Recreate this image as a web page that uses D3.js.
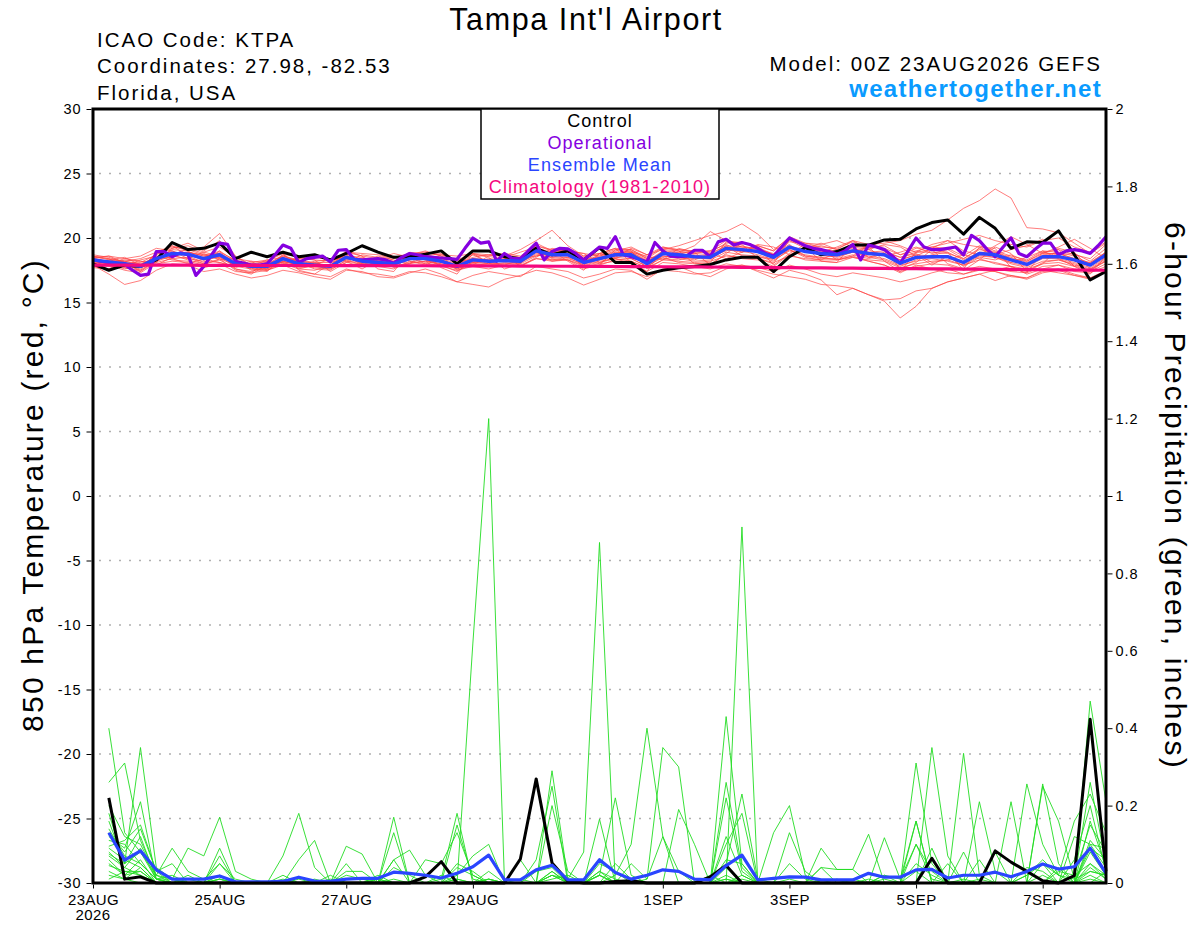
<!DOCTYPE html>
<html><head><meta charset="utf-8">
<script src="https://cdn.jsdelivr.net/npm/d3@7"></script>
<style>body{margin:0;background:#fff;} svg{display:block;}</style>
</head><body><svg id="c" width="1200" height="927"></svg>
<script>
// ---------------- DATA ----------------
const tempTicks=[30,25,20,15,10,5,0,-5,-10,-15,-20,-25,-30];
const gridTemps=[25,20,15,10,5,0,-5,-10,-15,-20,-25];
const precipTicks=[0,0.2,0.4,0.6,0.8,1,1.2,1.4,1.6,1.8,2];
const precipTickLabels=["0","0.2","0.4","0.6","0.8","1","1.2","1.4","1.6","1.8","2"];
const dateTickHours=[0,48,96,144,216,264,312,360];
const dateTickLabels=["23AUG","25AUG","27AUG","29AUG","1SEP","3SEP","5SEP","7SEP"];
const legendLabels=["Control","Operational","Ensemble Mean","Climatology (1981-2010)"];

const hours6=d3.range(0,385,6);      // 0..384 h, temperature members/control/mean/clim
const hours3=d3.range(0,385,3);      // operational run
const precipHours=d3.range(6,385,6); // 6-hour precipitation totals

// 850 hPa temperature ensemble members (6-hourly, 0..384 h)
const tempMembers=[
[18.6,18.4,17.7,17.5,18.9,19.4,18.6,18.1,19.0,17.6,17.3,18.2,18.8,
 17.5,17.2,18.0,19.0,18.6,17.6,17.4,18.9,18.7,17.7,17.2,18.8,18.5,
 17.6,18.0,19.6,19.0,18.2,17.5,18.8,19.2,18.1,17.4,19.1,19.0,18.0,
 18.1,19.7,19.5,18.4,18.0,19.9,19.3,18.2,18.1,19.5,19.3,18.2,17.4,
 18.9,19.1,18.0,17.6,19.3,19.2,17.7,17.3,18.9,19.1,17.8,17.2,18.6],
[18.1,17.9,18.3,18.2,17.9,18.5,19.2,18.8,18.3,18.4,18.2,17.5,18.0,
 18.4,18.3,17.4,18.1,18.7,18.5,17.7,18.0,18.9,18.6,17.5,17.9,18.6,
 18.7,17.8,18.5,19.2,19.0,17.7,17.9,19.1,19.0,17.6,18.3,19.2,18.9,
 17.9,18.8,19.6,19.3,17.9,18.8,19.5,19.2,18.3,18.6,19.4,19.1,17.6,
 18.1,19.1,18.9,17.5,18.3,19.3,18.8,17.4,18.0,19.2,18.9,17.6,18.2],
[17.9,17.2,16.4,16.7,17.5,18.0,17.9,17.4,17.6,17.2,16.9,17.1,17.5,
 17.3,17.0,16.8,17.5,17.4,17.0,16.9,17.3,17.6,17.2,16.6,17.1,17.4,
 17.2,17.0,17.8,17.6,17.4,16.9,17.2,17.6,17.5,16.8,17.6,17.8,17.3,
 17.0,17.6,17.9,17.4,16.9,17.5,17.2,16.75,15.6,16.1,15.6,15.2,15.3,
 15.9,16.1,16.6,16.9,17.2,16.7,17.1,16.9,17.5,17.3,17.1,16.8,17.4],
[18.4,18.6,18.1,17.4,18.2,19.1,19.0,18.3,18.5,17.8,17.6,18.0,18.6,
 18.2,17.8,17.6,18.8,18.3,17.9,17.8,18.6,18.3,17.9,17.4,18.2,18.0,
 18.4,18.5,18.9,18.2,18.4,18.0,18.2,18.4,18.0,17.4,18.1,18.0,17.8,
 17.6,18.0,17.8,17.5,17.2,17.0,16.8,16.4,16.3,16.1,15.6,15.1,13.8,
 14.7,16.1,16.6,16.9,17.2,17.5,17.8,17.2,17.6,17.9,17.4,17.3,17.8],
[18.2,18.0,18.4,18.6,19.2,19.0,18.4,18.9,19.3,18.5,17.9,17.6,18.3,
 18.4,18.6,18.2,18.7,17.9,18.4,18.8,18.5,18.0,18.7,18.6,18.8,18.1,
 18.5,18.9,19.3,18.6,19.0,18.8,18.6,19.0,19.3,18.7,19.3,19.0,18.8,
 19.0,19.5,18.9,19.4,19.0,19.8,19.2,19.4,19.1,19.8,19.5,19.6,19.8,
 20.3,20.6,21.4,22.3,22.9,23.8,23.1,20.8,20.7,20.4,19.6,18.8,19.6],
[18.0,18.3,18.5,17.9,18.6,18.5,18.9,18.7,18.4,17.9,18.2,18.1,18.1,
 17.8,18.2,18.3,18.5,18.0,18.6,18.3,18.0,18.6,18.8,18.0,18.5,18.7,
 18.6,19.1,19.8,20.6,19.4,18.6,18.8,18.5,19.2,18.7,19.1,19.4,19.8,
 20.2,20.5,21.1,20.3,19.1,20.0,19.4,18.9,19.3,19.8,19.1,18.6,18.9,
 19.3,18.8,19.1,18.4,19.2,18.6,18.1,18.5,19.0,18.4,17.8,18.1,18.9],
[18.5,18.4,18.2,18.0,18.5,18.7,18.3,18.0,18.9,18.3,17.5,17.6,18.7,
 18.1,17.6,17.5,18.3,18.4,18.3,18.2,18.5,18.1,17.8,17.9,18.7,18.1,
 17.9,18.3,19.1,18.4,18.3,17.9,18.8,18.4,18.2,17.7,19.0,18.5,18.3,
 18.8,19.4,18.6,18.5,18.4,19.1,18.5,18.3,18.9,19.3,18.5,18.9,18.5,
 18.8,18.1,18.3,18.7,18.4,18.0,17.8,17.4,18.1,18.3,17.9,17.5,18.3],
[17.8,17.6,18.0,18.1,18.7,19.2,19.4,18.9,18.6,17.9,17.8,18.3,18.5,
 17.6,17.5,17.9,18.8,18.0,18.0,18.4,18.8,18.4,18.3,17.6,18.0,17.9,
 18.1,18.0,18.6,18.9,19.2,18.4,18.0,18.9,18.9,18.3,18.4,18.3,18.6,
 18.6,19.0,19.4,19.1,18.8,19.5,18.6,18.4,18.4,18.7,18.4,18.8,18.3,
 18.7,17.9,18.6,17.8,18.5,18.3,18.7,18.2,18.9,18.7,18.8,18.2,19.2],
[18.3,18.1,17.7,17.4,18.4,19.0,18.6,18.5,19.0,18.2,17.7,17.5,18.2,
 17.9,18.1,18.1,18.4,18.3,18.4,18.2,18.3,18.7,18.4,18.0,18.4,18.3,
 18.2,18.1,18.7,18.5,18.8,18.3,18.5,18.6,18.8,18.2,18.9,18.6,18.7,
 18.4,19.1,18.9,19.0,18.5,19.2,19.0,18.7,18.5,18.9,18.6,18.4,17.9,
 18.2,18.4,18.2,17.9,18.6,18.5,18.0,17.7,18.2,18.3,18.0,17.6,18.4],
[18.7,18.5,18.1,17.9,18.2,18.6,18.9,18.6,18.5,18.1,18.0,17.9,18.4,
 18.3,18.0,17.9,18.3,17.9,17.8,17.6,18.2,18.0,17.8,17.5,17.8,17.6,
 17.9,17.8,18.4,18.2,18.3,17.6,17.9,18.3,18.4,17.8,18.5,18.1,18.0,
 18.0,18.7,18.4,18.3,17.8,18.7,18.3,18.2,18.1,18.5,18.2,17.9,17.3,
 17.9,17.6,17.3,17.2,17.6,17.4,17.0,16.9,17.4,17.6,17.2,16.9,17.5],
[18.4,17.9,17.5,17.3,18.1,19.2,19.6,19.0,19.8,18.3,17.6,17.4,18.5,
 18.2,18.0,17.9,18.9,18.6,18.4,18.0,18.7,19.0,18.6,18.2,18.7,18.6,
 18.7,18.5,19.4,19.1,19.0,18.5,18.7,19.1,19.1,18.4,19.2,19.1,18.9,
 18.9,19.6,19.7,19.3,18.7,19.9,19.4,19.1,19.0,19.4,19.2,19.4,18.7,
 19.0,19.3,19.2,18.6,19.4,19.0,18.6,18.3,19.0,18.9,18.6,18.0,18.9],
[18.0,17.8,17.9,17.6,18.8,19.4,19.0,19.3,20.35,18.6,17.9,17.7,18.2,
 17.9,17.7,17.6,18.1,18.0,17.9,17.8,18.1,18.2,17.9,17.7,18.0,17.9,
 18.0,18.1,18.8,18.3,18.5,17.9,18.1,18.5,18.4,17.8,18.6,18.4,18.2,
 18.3,18.9,18.7,18.6,18.2,19.1,18.6,18.5,18.6,18.9,18.5,18.3,17.8,
 18.3,18.7,18.9,18.3,18.9,18.9,18.5,18.1,18.7,18.8,18.4,18.0,18.8],
[18.5,18.6,18.4,18.2,18.1,18.4,18.5,18.0,18.3,17.6,17.4,17.8,18.6,
 18.3,18.1,17.7,18.6,18.5,18.2,18.1,18.6,18.5,18.3,17.9,18.4,18.0,
 18.3,18.0,19.2,18.9,18.9,18.3,18.6,18.9,18.9,18.2,19.0,18.9,18.8,
 18.7,19.4,19.3,19.2,18.7,19.4,19.0,19.0,18.9,19.2,18.9,19.0,18.5,
 18.9,18.9,18.8,18.4,19.1,18.9,18.4,18.2,18.8,18.8,18.4,18.1,18.9],
[18.2,18.0,17.8,18.3,18.6,18.3,18.2,17.9,18.4,17.5,17.2,17.9,18.7,
 18.6,18.5,18.3,18.6,18.1,18.2,18.5,18.7,18.3,18.0,17.7,18.4,18.2,
 18.4,18.3,18.9,18.5,18.5,18.2,18.3,18.8,19.0,18.4,18.7,18.9,19.4,
 20.5,19.8,19.3,19.1,18.6,19.7,19.6,19.5,19.8,19.3,19.1,19.5,19.3,
 18.6,19.2,19.8,19.5,19.3,18.7,19.1,19.4,19.9,19.1,18.7,18.4,19.5],
[17.9,18.2,18.0,17.5,18.3,18.6,18.4,18.2,18.1,17.8,17.9,18.0,18.1,
 17.7,17.8,17.7,18.2,18.1,18.0,17.8,18.0,18.2,18.0,17.6,18.1,18.0,
 18.0,17.9,18.4,18.3,18.3,17.8,18.0,18.2,18.2,17.7,18.3,18.2,18.1,
 18.2,18.6,18.5,18.4,18.1,18.6,18.4,18.3,18.3,18.5,18.3,18.2,17.7,
 18.0,18.2,18.3,17.9,18.3,18.1,17.8,17.6,18.0,18.1,17.8,17.5,18.2],
[18.3,18.0,17.6,17.8,18.0,18.2,18.1,17.7,18.0,17.4,17.3,17.5,17.9,
 17.4,17.2,17.0,17.6,17.3,17.2,17.0,17.4,17.3,17.0,16.6,16.4,16.2,
 16.8,17.1,17.5,17.3,16.9,16.35,16.8,17.3,17.4,17.0,17.5,17.4,17.2,
 17.3,17.8,17.9,17.7,17.4,17.9,17.6,17.2,17.0,17.3,17.1,16.9,16.6,
 16.9,17.3,17.6,17.2,17.5,17.4,17.1,16.8,17.3,17.5,17.1,16.9,17.4],
[18.6,18.3,18.1,17.7,18.8,19.3,19.1,18.7,18.8,18.1,18.0,18.2,18.9,
 18.5,18.3,18.2,18.9,18.8,18.7,18.5,18.8,18.9,18.7,18.3,18.8,18.7,
 18.8,18.6,19.4,19.0,19.1,18.6,18.8,19.2,19.1,18.5,19.3,19.1,19.0,
 19.0,19.8,19.6,19.4,19.0,20.1,19.6,19.3,19.2,19.7,19.3,19.2,18.7,
 19.2,19.3,19.6,19.9,20.2,19.8,19.5,19.3,19.8,20.0,19.3,18.9,19.7],
[18.1,18.3,18.2,17.9,18.5,18.9,18.7,18.3,18.6,17.9,17.7,17.6,18.2,
 17.9,17.8,17.9,18.4,18.2,18.0,17.9,18.3,18.4,18.1,17.7,18.1,18.2,
 18.3,18.2,18.9,18.6,18.6,18.1,18.3,18.6,18.6,18.0,18.6,18.5,18.4,
 18.4,19.1,19.0,18.7,18.3,19.0,18.7,18.5,18.3,18.6,18.2,17.9,17.4,
 17.8,18.0,17.9,17.5,17.8,17.6,17.4,17.3,17.8,17.9,17.6,17.4,18.0],
[18.4,18.2,17.9,17.9,18.3,18.8,18.9,18.6,18.8,18.2,17.9,17.8,18.5,
 18.1,18.0,17.9,18.6,18.3,18.2,18.1,18.5,18.5,18.3,17.9,18.4,18.3,
 18.3,18.3,19.0,18.8,18.8,18.2,18.5,18.8,18.8,18.1,18.9,18.8,18.6,
 18.6,19.3,19.2,19.0,18.6,19.3,19.0,18.9,18.8,19.1,18.9,18.8,18.3,
 18.7,18.6,18.5,18.0,18.7,18.5,18.1,17.8,18.4,18.4,18.1,17.7,18.5],
[17.7,17.6,18.2,18.4,18.9,18.4,18.0,18.4,18.1,17.7,18.1,18.3,18.0,
 17.6,17.9,18.4,18.2,17.6,18.3,18.6,18.2,17.9,18.5,18.4,18.1,18.4,
 18.6,18.4,18.6,18.9,19.0,18.8,18.1,18.4,18.9,18.6,18.3,18.7,19.1,
 18.8,18.4,18.9,19.5,19.3,18.7,19.2,19.6,19.1,18.9,19.3,19.8,19.4,
 18.9,19.5,19.8,19.0,18.7,19.4,20.1,19.5,18.8,19.3,19.9,19.2,18.4]
];

// Control run temperature (6-hourly)
const tempControl=[18.0,17.5,17.9,17.8,18.3,19.65,19.1,19.2,19.6,18.4,18.9,18.55,18.9,
 18.55,18.7,18.3,18.8,19.4,18.9,18.5,18.55,18.75,19.0,18.0,19.0,19.0,
 18.55,18.4,19.2,18.7,19.0,18.3,19.25,18.1,18.1,17.2,17.5,17.7,17.8,
 17.95,18.3,18.5,18.5,17.4,18.55,19.25,18.7,18.95,19.45,19.45,19.85,19.9,
 20.7,21.2,21.4,20.3,21.6,20.75,19.2,19.7,19.65,20.55,18.7,16.75,17.4];

// Operational run temperature (3-hourly)
const tempOperational=[18.3,18.2,18.1,18.0,17.95,17.5,17.1,17.2,18.95,18.95,18.55,18.85,18.7,17.1,17.8,18.7,
 19.6,19.5,18.2,18.05,17.9,17.9,18.0,18.7,19.45,19.2,18.1,18.4,18.5,18.6,18.15,19.05,
 19.1,18.35,18.3,18.35,18.4,18.3,18.05,18.5,18.8,18.7,18.55,18.5,18.45,18.4,18.35,19.2,
 20.0,19.6,19.7,18.2,18.8,18.4,18.4,19.0,19.6,18.3,18.95,19.2,19.15,18.8,18.3,18.8,
 19.3,19.2,20.1,18.7,18.55,18.35,18.15,19.65,19.0,18.6,18.55,18.6,19.05,19.05,18.55,19.7,
 19.9,19.45,19.65,19.5,19.2,18.8,18.6,19.3,20.0,19.7,19.4,19.2,19.1,18.95,18.75,19.0,
 19.5,18.3,19.45,19.3,19.1,18.6,18.05,19.0,20.0,19.3,19.1,19.1,19.2,19.3,18.7,20.2,
 19.8,19.1,18.55,19.3,20.0,18.8,18.55,19.1,19.6,19.6,18.7,19.0,19.1,19.0,18.8,19.4,
 20.1];

// Ensemble mean temperature (6-hourly)
const tempMean=[18.3,18.15,18.0,17.8,18.4,18.8,18.75,18.4,18.7,18.0,17.8,17.8,18.4,
 18.0,17.9,17.8,18.5,18.2,18.1,18.0,18.4,18.4,18.2,17.8,18.3,18.2,
 18.25,18.2,19.0,18.7,18.7,18.1,18.4,18.7,18.7,18.0,18.8,18.7,18.55,
 18.5,19.2,19.1,18.95,18.5,19.3,18.95,18.8,18.7,19.0,18.8,18.7,18.05,
 18.5,18.55,18.55,18.1,18.8,18.7,18.3,17.95,18.55,18.55,18.3,17.9,18.7];

// Climatology 1981-2010 (6-hourly)
const tempClim=[17.90,17.90,17.90,17.89,17.89,17.89,17.89,17.88,17.88,17.88,17.88,17.87,17.87,
 17.87,17.87,17.86,17.86,17.86,17.86,17.85,17.85,17.85,17.84,17.84,17.84,17.83,
 17.83,17.82,17.82,17.81,17.81,17.80,17.80,17.79,17.78,17.78,17.77,17.76,17.76,
 17.75,17.74,17.73,17.72,17.71,17.70,17.69,17.68,17.67,17.66,17.65,17.64,17.63,
 17.62,17.61,17.60,17.59,17.58,17.57,17.56,17.55,17.54,17.53,17.52,17.51,17.50];

// 6-hour precipitation ensemble members (inches, 6..384 h)
const precipMembers=[
[0.40,0.13,0.08,0.01,0,0,0,0.01,0,0,0,0,0.01,0,0,0,
 0,0,0.01,0,0,0,0.02,0.07,0.10,0,0.01,0,0.03,0,0,0.02,
 0,0,0.01,0.12,0.03,0,0,0.05,0.23,0.01,0,0,0,0,0,0.01,
 0,0.01,0,0.10,0.03,0,0.01,0,0,0,0.02,0.05,0.02,0.01,0.26,0.05],
[0.26,0.31,0.11,0.02,0.09,0.03,0.01,0.05,0,0,0,0,0,0,0,0,
 0,0,0,0,0,0,0,0.62,1.20,0,0,0,0.02,0,0,0,
 0,0,0,0,0,0,0,0.02,0,0,0,0,0,0,0,0,
 0,0,0,0,0,0,0,0.01,0,0,0,0,0.03,0.02,0.05,0.02],
[0.16,0.05,0.35,0.04,0.01,0.09,0.07,0.17,0.03,0.01,0,0,0,0,0,0,
 0,0,0,0,0,0,0.01,0,0.01,0,0,0,0.29,0.01,0.08,0.88,
 0,0,0,0,0,0,0,0,0,0,0,0,0,0,0,0,
 0,0,0,0.31,0.05,0,0,0,0,0,0,0.02,0,0,0.04,0.01],
[0.12,0.09,0.21,0.01,0,0,0,0.09,0,0,0,0.07,0.18,0.04,0,0,
 0,0,0.17,0,0,0.01,0.18,0,0,0,0,0.06,0.25,0,0,0.02,
 0.22,0.02,0,0,0,0,0,0.43,0.05,0,0,0,0,0,0,0,
 0.01,0,0,0,0.35,0.07,0,0,0,0,0,0,0,0.02,0.15,0.08],
[0.095,0.11,0.15,0.03,0.05,0,0,0.07,0,0,0,0,0.06,0.11,0,0.02,
 0.01,0,0.13,0,0,0,0,0,0,0,0,0,0.20,0.03,0,0,
 0.02,0.10,0.40,0.12,0,0,0,0,0.92,0,0,0.01,0,0,0,0,
 0,0,0,0,0,0,0.335,0.02,0,0,0,0,0,0,0.05,0.01],
[0.075,0.05,0.08,0.02,0.01,0,0,0.05,0.01,0,0,0,0,0,0,0.095,
 0.075,0,0.06,0.085,0.02,0,0,0,0,0,0.06,0,0,0,0,0,
 0,0.05,0.01,0.35,0.30,0,0,0,0.01,0,0.13,0.20,0.02,0,0,0,
 0,0,0,0.16,0,0,0,0.21,0.03,0,0,0.25,0.16,0.01,0.03,0.02],
[0.06,0.02,0.06,0,0,0,0,0.01,0,0,0,0,0,0,0,0.05,
 0,0.01,0,0,0.06,0.05,0.13,0.02,0,0,0,0,0,0,0,0.165,
 0,0,0,0,0.19,0.10,0,0.26,0.04,0,0,0,0,0.09,0.035,0.035,
 0.126,0,0,0,0.09,0,0,0,0,0.21,0,0,0,0,0.47,0.21],
[0.045,0.03,0.03,0,0,0,0,0,0,0,0,0,0,0,0,0,
 0,0,0,0,0,0,0.15,0.01,0,0,0,0,0.03,0,0,0.02,
 0,0,0,0,0,0,0,0.22,0.03,0,0,0.13,0.03,0,0,0,
 0,0.117,0.01,0.10,0.01,0,0,0,0.08,0,0.256,0.10,0.02,0.16,0.23,0.13],
[0.03,0.01,0,0,0,0.02,0,0.01,0,0,0,0,0,0,0,0,
 0,0,0,0,0,0,0,0,0.01,0,0,0,0,0,0,0,
 0,0,0,0,0,0,0,0,0,0,0,0,0,0,0,0,
 0,0,0,0,0,0,0,0,0,0,0,0,0,0,0.02,0],
[0.01,0.03,0.02,0,0,0,0,0,0,0,0,0,0,0,0,0,
 0,0.01,0,0,0,0,0,0,0,0,0,0,0,0,0,0.03,
 0.01,0,0,0,0,0,0,0.01,0,0,0,0,0,0,0,0,
 0,0,0,0,0,0,0,0,0,0,0,0.256,0.05,0,0.10,0.04],
[0.20,0.12,0.10,0.02,0,0,0,0,0,0,0,0,0,0,0.02,0,
 0,0,0,0,0,0,0,0,0.03,0,0,0,0,0,0,0.05,
 0.03,0,0,0,0,0,0,0.06,0.05,0,0,0,0,0,0.01,0,
 0,0,0,0.05,0.02,0,0,0.06,0,0,0,0,0,0,0.16,0.04],
[0.14,0.07,0.05,0.01,0,0,0,0,0,0,0,0.02,0,0,0,0.03,
 0.03,0,0.04,0.02,0,0,0.05,0.03,0,0,0,0.03,0.04,0,0,0,
 0,0,0,0,0,0,0.02,0,0,0,0,0,0,0.04,0.035,0.035,
 0,0,0,0,0,0,0.08,0,0,0,0,0,0,0,0.09,0.06],
[0.09,0.06,0.04,0,0,0,0,0.02,0,0,0,0,0,0.01,0,0,
 0,0,0,0,0,0,0.04,0.02,0,0,0,0,0.01,0.02,0,0,
 0.05,0.01,0,0,0,0,0,0.12,0.02,0,0,0,0,0,0,0,
 0,0.02,0,0,0,0.05,0,0,0,0,0,0,0,0.06,0.20,0.03],
[0.11,0.10,0.05,0.01,0.01,0,0,0,0,0,0,0.01,0,0,0,0,
 0,0.02,0,0,0,0.02,0,0,0,0,0,0,0.02,0.01,0,0.03,
 0,0,0,0,0,0,0,0.10,0.18,0,0,0.05,0.01,0,0,0,
 0,0.02,0.01,0.16,0,0,0,0,0,0,0.04,0.03,0,0,0.11,0.06],
[0.05,0.02,0.03,0,0,0,0,0,0,0,0,0,0,0,0,0,
 0,0,0,0,0,0,0,0,0.01,0,0,0,0,0,0,0,
 0,0,0,0,0,0,0,0,0,0,0,0,0,0,0,0,
 0,0,0,0,0,0,0,0,0,0,0.02,0.06,0.02,0,0.08,0.02],
[0.08,0.04,0.02,0,0,0,0,0.02,0,0,0,0,0,0,0,0,
 0,0,0,0,0,0,0.01,0,0,0,0,0,0,0,0,0,
 0,0,0,0,0,0,0,0,0.02,0,0,0,0,0.04,0,0,
 0,0,0,0,0,0,0,0,0,0,0,0,0,0,0.03,0.02],
[0.18,0.05,0.12,0.01,0.02,0,0,0,0,0,0,0,0,0,0,0,
 0,0,0.06,0,0,0,0,0,0,0,0,0,0.02,0,0,0.02,
 0,0,0,0,0,0,0,0.04,0,0,0,0,0,0,0,0,
 0,0,0,0,0,0,0,0,0,0,0,0.05,0,0.12,0.10,0.09],
[0.13,0.08,0.14,0.03,0,0,0,0,0,0,0,0,0,0,0,0,
 0,0,0,0,0,0,0,0,0,0,0,0,0,0,0,0,
 0,0,0,0,0,0,0,0,0,0,0,0,0,0,0,0,
 0,0,0,0,0,0,0,0,0,0,0,0,0,0,0,0],
[0.07,0.04,0.09,0.01,0,0.01,0,0,0,0,0,0,0,0,0.01,0,
 0,0,0,0,0,0,0,0,0,0,0,0,0,0,0,0,
 0,0,0,0,0,0,0,0,0,0,0,0,0,0,0,0,
 0,0,0,0.03,0,0,0,0,0,0,0,0,0.04,0,0.01,0],
[0.02,0.01,0.04,0,0,0,0,0,0,0,0,0,0,0,0,0,
 0,0,0,0,0,0,0,0,0,0,0,0,0,0,0,0,
 0,0,0,0,0,0,0,0.01,0,0,0,0,0,0,0,0,
 0,0,0,0,0,0,0,0,0,0,0,0,0,0,0,0.03]
];

// Control run 6-hour precipitation
const precipControl=[0.22,0.01,0.016,0,0,0,0,0,0,0,0,0,0,0,0,0,
 0,0,0,0,0.016,0.055,0,0,0,0,0.062,0.269,0.052,0.005,0,0,
 0.004,0.006,0,0,0,0,0.016,0.045,0,0,0,0,0,0,0,0,
 0,0,0,0,0.064,0,0,0,0.083,0.054,0.03,0.006,0,0.019,0.423,0.03];

// Ensemble mean 6-hour precipitation
const precipMean=[0.13,0.059,0.083,0.034,0.01,0.01,0.01,0.018,0.003,0.003,0.003,0.004,0.015,0.005,0.004,0.01,
 0.012,0.012,0.028,0.025,0.02,0.013,0.025,0.042,0.072,0.008,0.008,0.034,0.046,0.008,0.008,0.06,
 0.027,0.01,0.02,0.034,0.03,0.01,0.008,0.045,0.072,0.008,0.012,0.016,0.015,0.008,0.008,0.008,
 0.025,0.015,0.015,0.034,0.035,0.013,0.02,0.02,0.028,0.016,0.03,0.049,0.036,0.042,0.09,0.025];

// ---------------- DRAWING ----------------
const FONT='"Liberation Sans", Arial, Helvetica, sans-serif';
const L=93,R=1106,T=109,B=883;
const svg=d3.select("#c").style("font-family",FONT);
const x=d3.scaleLinear().domain([0,384]).range([L,R]);
const yT=d3.scaleLinear().domain([-30,30]).range([B,T]);
const yP=d3.scaleLinear().domain([0,2]).range([B,T]);

const C_OPER="#8500e0", C_MEAN="#2a45ff", C_CLIM="#f5077e", C_RED="#ff4040", C_GREEN="#22dd22";

// gridlines
svg.append("g").selectAll("line").data(gridTemps).join("line")
  .attr("x1",L+6).attr("x2",R-2).attr("y1",d=>yT(d)).attr("y2",d=>yT(d))
  .attr("stroke","#b0b0b0").attr("stroke-width",1.3).attr("stroke-dasharray","2,8");

const lineT=hrs=>d3.line().x((d,i)=>x(hrs[i])).y(d=>yT(d));
const lineP=d3.line().x((d,i)=>x(precipHours[i])).y(d=>yP(d));

// members
svg.append("g").selectAll("path").data(tempMembers).join("path")
  .attr("d",lineT(hours6)).attr("fill","none").attr("stroke",C_RED)
  .attr("stroke-opacity",0.72).attr("stroke-width",0.95);
svg.append("g").selectAll("path").data(precipMembers).join("path")
  .attr("d",lineP).attr("fill","none").attr("stroke",C_GREEN)
  .attr("stroke-width",0.9);

// precip control & mean
svg.append("path").datum(precipControl).attr("d",lineP).attr("fill","none")
  .attr("stroke","#000").attr("stroke-width",3).attr("stroke-linejoin","round");
svg.append("path").datum(precipMean).attr("d",lineP).attr("fill","none")
  .attr("stroke",C_MEAN).attr("stroke-width",3.2).attr("stroke-linejoin","round");

// temperature control, operational, mean, climatology
svg.append("path").datum(tempControl).attr("d",lineT(hours6)).attr("fill","none")
  .attr("stroke","#000").attr("stroke-width",3).attr("stroke-linejoin","round");
svg.append("path").datum(tempOperational).attr("d",lineT(hours3)).attr("fill","none")
  .attr("stroke",C_OPER).attr("stroke-width",3.2).attr("stroke-linejoin","round");
svg.append("path").datum(tempMean).attr("d",lineT(hours6)).attr("fill","none")
  .attr("stroke",C_MEAN).attr("stroke-width",3.4).attr("stroke-linejoin","round");
svg.append("path").datum(tempClim).attr("d",lineT(hours6)).attr("fill","none")
  .attr("stroke",C_CLIM).attr("stroke-width",3.2);

// frame
svg.append("rect").attr("x",L).attr("y",T).attr("width",R-L).attr("height",B-T)
  .attr("fill","none").attr("stroke","#000").attr("stroke-width",3);

// axes
function styleAxis(g,fs,ls){
  g.select(".domain").remove();
  g.selectAll(".tick line").attr("stroke","#000").attr("stroke-width",1);
  g.selectAll(".tick text").attr("fill","#000").style("font-size",fs+"px")
   .style("letter-spacing",ls+"px").style("font-family",FONT);
}
svg.append("g").attr("transform",`translate(${L-1.5},0)`)
  .call(d3.axisLeft(yT).tickValues(tempTicks).tickSize(5).tickPadding(5).tickFormat(d=>String(d)))
  .call(g=>styleAxis(g,14.5,0.9));
svg.append("g").attr("transform",`translate(${R+1.5},0)`)
  .call(d3.axisRight(yP).tickValues(precipTicks).tickSize(5).tickPadding(3).tickFormat((d,i)=>precipTickLabels[i]))
  .call(g=>styleAxis(g,14.5,0.9));
svg.append("g").attr("transform",`translate(0,${B+1.5})`)
  .call(d3.axisBottom(x).tickValues(dateTickHours).tickSize(4).tickPadding(6).tickFormat((d,i)=>dateTickLabels[i]))
  .call(g=>styleAxis(g,15,0.4));
svg.append("text").attr("x",x(0)).attr("y",920).attr("text-anchor","middle")
  .style("font-size","15px").style("letter-spacing","0.4px").text("2026");

// titles
function txt(xp,yp,s,fs,opts={}){
  const t=svg.append("text").attr("x",xp).attr("y",yp).text(s)
    .style("font-size",fs+"px").style("letter-spacing",(opts.ls??0)+"px")
    .attr("text-anchor",opts.anchor||"start").attr("fill",opts.fill||"#000");
  if(opts.bold) t.style("font-weight","bold");
  if(opts.rot!=null) t.attr("transform",`rotate(${opts.rot},${xp},${yp})`);
  return t;
}
txt(586,30,"Tampa Int'l Airport",30.5,{anchor:"middle",ls:1.6});
txt(97,47,"ICAO Code: KTPA",20.5,{ls:2});
txt(97,73,"Coordinates: 27.98, -82.53",20.5,{ls:2});
txt(97,100,"Florida, USA",20.5,{ls:2});
txt(1102,71,"Model: 00Z 23AUG2026 GEFS",20.5,{anchor:"end",ls:2});
txt(1102,97,"weathertogether.net",24,{anchor:"end",ls:1.3,bold:true,fill:"#0a9bff"});
txt(43,495,"850 hPa Temperature (red, °C)",30,{anchor:"middle",ls:2.2,rot:-90});
txt(1165,496,"6-hour Precipitation (green, inches)",30,{anchor:"middle",ls:2.2,rot:90});

// legend
svg.append("rect").attr("x",481).attr("y",109).attr("width",238).attr("height",90)
  .attr("fill","#fff").attr("stroke","#000").attr("stroke-width",1.5);
const legColors=["#000",C_OPER,C_MEAN,C_CLIM];
legendLabels.forEach((s,i)=>txt(600,126.5+i*22,s,18,{anchor:"middle",ls:1.1,fill:legColors[i]}));
</script></body></html>
